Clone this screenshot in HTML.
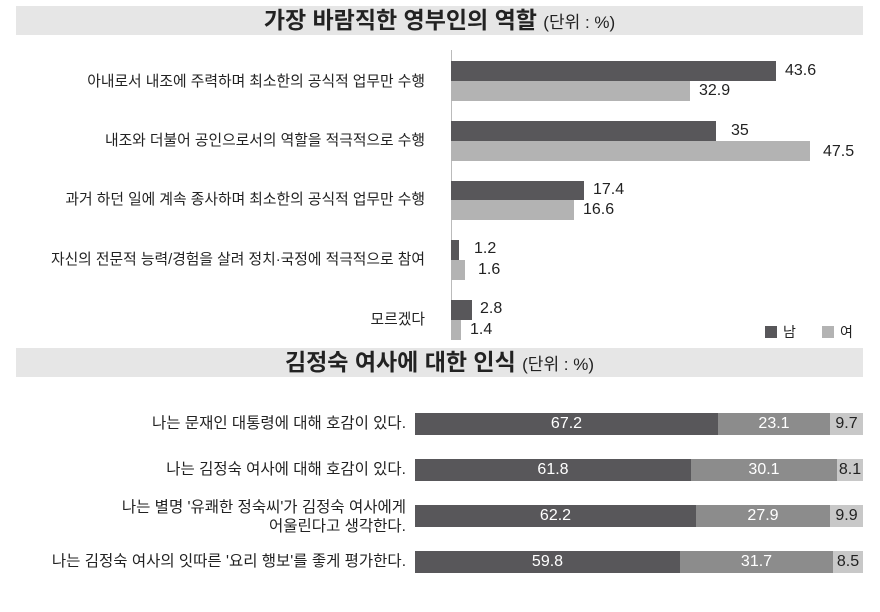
<!DOCTYPE html>
<html><head><meta charset="utf-8"><style>
body{margin:0;width:880px;height:612px;background:#fff;font-family:"Liberation Sans","Noto Sans CJK KR",sans-serif;color:#222;position:relative;overflow:hidden}
div{position:absolute}
.bar{background:#e6e6e6;left:16px;width:847px;height:29px;text-align:center;font-size:23px;font-weight:bold;line-height:29px}
.bar span{font-weight:normal;font-size:17px}
.lab{right:455px;font-size:14.8px;text-align:right;white-space:nowrap}
.lab2{right:474px;font-size:15.5px;text-align:right;white-space:nowrap;line-height:19px}
.d{background:#58575a}.l{background:#b3b3b3}
.v{font-size:16px}
.s{height:22px;line-height:22px;font-size:16px;text-align:center;color:#fff}
</style></head><body>
<div class="bar" style="top:6px">가장 바람직한 영부인의 역할 <span>(단위 : %)</span></div>
<div style="left:451px;top:50px;width:1px;height:290px;background:#bbb"></div>

<div class="lab" style="top:70px">아내로서 내조에 주력하며 최소한의 공식적 업무만 수행</div>
<div class="d" style="left:451px;top:61px;width:325px;height:20px"></div>
<div class="l" style="left:451px;top:81px;width:239px;height:20px"></div>
<div class="v" style="left:785px;top:62px">43.6</div>
<div class="v" style="left:699px;top:82px">32.9</div>

<div class="lab" style="top:129px">내조와 더불어 공인으로서의 역할을 적극적으로 수행</div>
<div class="d" style="left:451px;top:121px;width:265px;height:20px"></div>
<div class="l" style="left:451px;top:141px;width:359px;height:20px"></div>
<div class="v" style="left:731px;top:122px">35</div>
<div class="v" style="left:823px;top:143px">47.5</div>

<div class="lab" style="top:188px">과거 하던 일에 계속 종사하며 최소한의 공식적 업무만 수행</div>
<div class="d" style="left:451px;top:181px;width:133px;height:19px"></div>
<div class="l" style="left:451px;top:200px;width:123px;height:20px"></div>
<div class="v" style="left:593px;top:181px">17.4</div>
<div class="v" style="left:583px;top:201px">16.6</div>

<div class="lab" style="top:248px">자신의 전문적 능력/경험을 살려 정치·국정에 적극적으로 참여</div>
<div class="d" style="left:451px;top:240px;width:8px;height:20px"></div>
<div class="l" style="left:451px;top:260px;width:14px;height:20px"></div>
<div class="v" style="left:474px;top:240px">1.2</div>
<div class="v" style="left:478px;top:261px">1.6</div>

<div class="lab" style="top:308px">모르겠다</div>
<div class="d" style="left:451px;top:300px;width:21px;height:20px"></div>
<div class="l" style="left:451px;top:320px;width:10px;height:20px"></div>
<div class="v" style="left:480px;top:300px">2.8</div>
<div class="v" style="left:470px;top:321px">1.4</div>

<div class="d" style="left:765px;top:326px;width:12px;height:12px"></div>
<div style="left:783px;top:322px;font-size:14px">남</div>
<div class="l" style="left:822px;top:326px;width:12px;height:12px"></div>
<div style="left:840px;top:322px;font-size:14px">여</div>

<div class="bar" style="top:348px">김정숙 여사에 대한 인식 <span>(단위 : %)</span></div>

<div class="lab2" style="top:414px">나는 문재인 대통령에 대해 호감이 있다.</div>
<div class="s d" style="left:415px;top:413px;width:303px">67.2</div>
<div class="s" style="left:718px;top:413px;width:112px;background:#8c8c8c">23.1</div>
<div class="s" style="left:830px;top:413px;width:33px;background:#c8c8c8;color:#222">9.7</div>

<div class="lab2" style="top:460px">나는 김정숙 여사에 대해 호감이 있다.</div>
<div class="s d" style="left:415px;top:459px;width:276px">61.8</div>
<div class="s" style="left:691px;top:459px;width:146px;background:#8c8c8c">30.1</div>
<div class="s" style="left:837px;top:459px;width:26px;background:#c8c8c8;color:#222">8.1</div>

<div class="lab2" style="top:498px">나는 별명 '유쾌한 정숙씨'가 김정숙 여사에게<br>어울린다고 생각한다.</div>
<div class="s d" style="left:415px;top:505px;width:281px">62.2</div>
<div class="s" style="left:696px;top:505px;width:134px;background:#8c8c8c">27.9</div>
<div class="s" style="left:830px;top:505px;width:33px;background:#c8c8c8;color:#222">9.9</div>

<div class="lab2" style="top:552px">나는 김정숙 여사의 잇따른 '요리 행보'를 좋게 평가한다.</div>
<div class="s d" style="left:415px;top:551px;width:265px">59.8</div>
<div class="s" style="left:680px;top:551px;width:153px;background:#8c8c8c">31.7</div>
<div class="s" style="left:833px;top:551px;width:30px;background:#c8c8c8;color:#222">8.5</div>
</body></html>
